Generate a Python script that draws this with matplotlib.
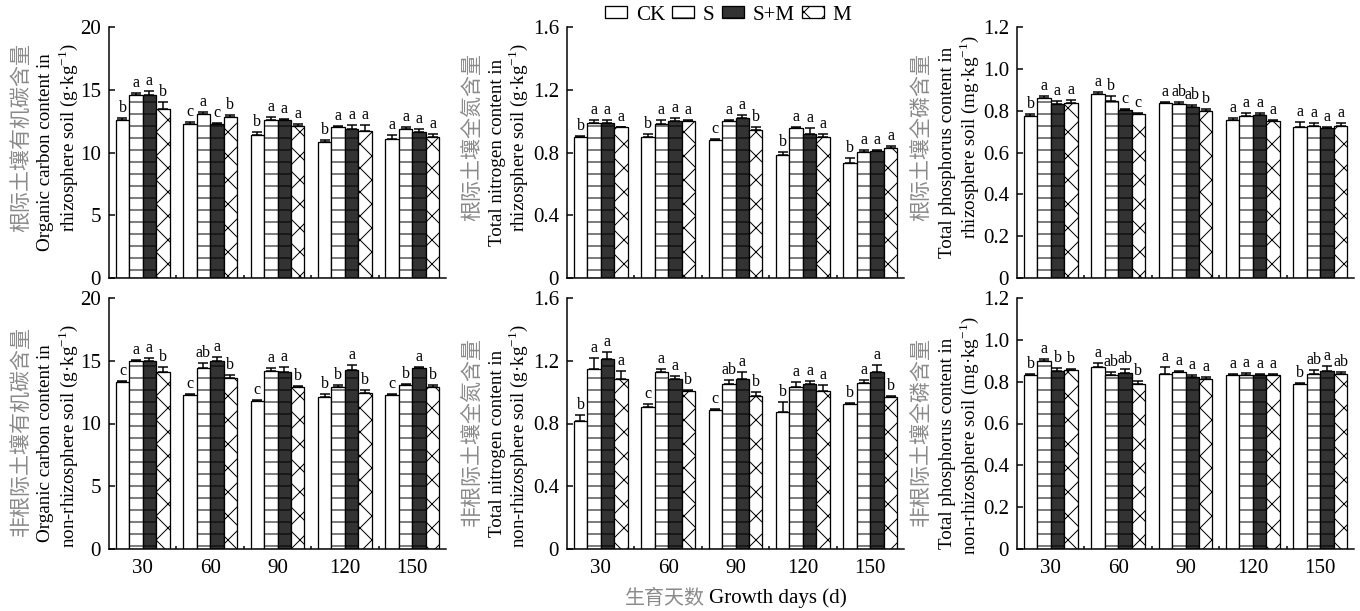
import matplotlib
matplotlib.use("Agg")
import matplotlib.pyplot as plt
import numpy as np

plt.rcParams["font.family"] = ["Liberation Serif", "Noto Sans CJK SC"]
plt.rcParams["mathtext.fontset"] = "custom"
plt.rcParams["mathtext.rm"] = "Liberation Serif"
plt.rcParams["hatch.linewidth"] = 1.0

days = ["30", "60", "90", "120", "150"]
treatments = ["CK", "S", "S+M", "M"]

# rows: CK, S, S+M, M ; columns: 30..150 days
oc_rhizo = [[12.55, 12.3, 11.4, 10.8, 11.1],
            [14.55, 13.1, 12.6, 12.0, 11.9],
            [14.6, 12.3, 12.6, 11.9, 11.6],
            [13.5, 12.8, 12.1, 11.7, 11.2]]
oc_rhizo_err = [[0.2, 0.15, 0.2, 0.2, 0.3],
                [0.2, 0.15, 0.2, 0.1, 0.1],
                [0.3, 0.05, 0.1, 0.3, 0.3],
                [0.5, 0.15, 0.2, 0.5, 0.3]]
oc_rhizo_let = [["b", "c", "b", "b", "a"],
                ["a", "a", "a", "a", "a"],
                ["a", "c", "a", "a", "a"],
                ["b", "b", "a", "a", "a"]]

tn_rhizo = [[0.898, 0.90, 0.88, 0.785, 0.735],
            [0.99, 0.98, 1.0, 0.955, 0.805],
            [0.99, 1.0, 1.02, 0.917, 0.81],
            [0.96, 1.0, 0.945, 0.90, 0.83]]
tn_rhizo_err = [[0.01, 0.02, 0.005, 0.02, 0.03],
                [0.02, 0.03, 0.005, 0.005, 0.01],
                [0.02, 0.02, 0.02, 0.04, 0.005],
                [0.005, 0.01, 0.015, 0.015, 0.01]]
tn_rhizo_let = [["b", "b", "c", "b", "b"],
                ["a", "a", "a", "a", "a"],
                ["a", "a", "a", "a", "a"],
                ["a", "a", "b", "a", "a"]]

tp_rhizo = [[0.773, 0.88, 0.837, 0.754, 0.72],
            [0.86, 0.848, 0.83, 0.773, 0.725],
            [0.83, 0.805, 0.818, 0.78, 0.717],
            [0.837, 0.786, 0.80, 0.752, 0.728]]
tp_rhizo_err = [[0.01, 0.01, 0.005, 0.01, 0.025],
                [0.01, 0.02, 0.01, 0.015, 0.015],
                [0.015, 0.005, 0.01, 0.01, 0.005],
                [0.015, 0.003, 0.01, 0.005, 0.015]]
tp_rhizo_let = [["b", "a", "a", "a", "a"],
                ["a", "b", "ab", "a", "a"],
                ["a", "c", "ab", "a", "a"],
                ["a", "c", "b", "a", "a"]]

oc_non = [[13.27, 12.26, 11.8, 12.15, 12.26],
          [15.0, 14.4, 14.2, 12.87, 13.05],
          [15.0, 15.0, 14.07, 14.28, 14.39],
          [14.07, 13.6, 12.87, 12.4, 12.9]]
oc_non_err = [[0.15, 0.1, 0.05, 0.2, 0.1],
              [0.05, 0.45, 0.2, 0.2, 0.1],
              [0.2, 0.3, 0.4, 0.4, 0.15],
              [0.4, 0.3, 0.15, 0.3, 0.2]]
oc_non_let = [["c", "c", "c", "b", "c"],
              ["a", "ab", "a", "b", "b"],
              ["a", "a", "a", "a", "a"],
              ["b", "b", "b", "b", "b"]]

tn_non = [[0.817, 0.908, 0.883, 0.874, 0.923],
          [1.15, 1.13, 1.05, 1.034, 1.057],
          [1.213, 1.083, 1.083, 1.05, 1.13],
          [1.083, 1.008, 0.977, 1.008, 0.968]]
tn_non_err = [[0.04, 0.015, 0.01, 0.06, 0.005],
              [0.07, 0.02, 0.03, 0.03, 0.02],
              [0.04, 0.02, 0.045, 0.02, 0.045],
              [0.05, 0.005, 0.025, 0.04, 0.005]]
tn_non_let = [["b", "c", "c", "b", "b"],
              ["a", "a", "ab", "a", "a"],
              ["a", "a", "a", "a", "a"],
              ["a", "b", "b", "a", "b"]]

tp_non = [[0.832, 0.872, 0.837, 0.83, 0.79],
          [0.90, 0.83, 0.845, 0.83, 0.837],
          [0.853, 0.84, 0.82, 0.83, 0.853],
          [0.856, 0.79, 0.815, 0.83, 0.837]]
tp_non_err = [[0.005, 0.015, 0.035, 0.005, 0.005],
              [0.008, 0.015, 0.005, 0.01, 0.02],
              [0.01, 0.02, 0.01, 0.005, 0.02],
              [0.005, 0.015, 0.005, 0.005, 0.01]]
tp_non_let = [["b", "a", "a", "a", "b"],
              ["a", "ab", "a", "a", "ab"],
              ["b", "ab", "a", "a", "a"],
              ["b", "b", "a", "a", "ab"]]

panels = [
    (oc_rhizo, oc_rhizo_err, oc_rhizo_let, 20, [0, 5, 10, 15, 20],
     ["根际土壤有机碳含量", "Organic carbon content in", r"rhizosphere soil (g·kg$^{-1}$)"]),
    (tn_rhizo, tn_rhizo_err, tn_rhizo_let, 1.6, [0, 0.4, 0.8, 1.2, 1.6],
     ["根际土壤全氮含量", "Total nitrogen content in", r"rhizosphere soil (g·kg$^{-1}$)"]),
    (tp_rhizo, tp_rhizo_err, tp_rhizo_let, 1.2, [0, 0.2, 0.4, 0.6, 0.8, 1.0, 1.2],
     ["根际土壤全磷含量", "Total phosphorus content in", r"rhizosphere soil (mg·kg$^{-1}$)"]),
    (oc_non, oc_non_err, oc_non_let, 20, [0, 5, 10, 15, 20],
     ["非根际土壤有机碳含量", "Organic carbon content in", r"non-rhizosphere soil (g·kg$^{-1}$)"]),
    (tn_non, tn_non_err, tn_non_let, 1.6, [0, 0.4, 0.8, 1.2, 1.6],
     ["非根际土壤全氮含量", "Total nitrogen content in", r"non-rhizosphere soil (g·kg$^{-1}$)"]),
    (tp_non, tp_non_err, tp_non_let, 1.2, [0, 0.2, 0.4, 0.6, 0.8, 1.0, 1.2],
     ["非根际土壤全磷含量", "Total phosphorus content in", r"non-rhizosphere soil (mg·kg$^{-1}$)"]),
]

W, H = 1360, 611
fig = plt.figure(figsize=(W / 72, H / 72), dpi=72)

lefts = [109, 567, 1017]
aw = 337
tops = [27, 298]
ah = 251
# y-label line offsets (px, left of axis) per column
lab_off = [[-87, -64, -41], [-95, -70, -49], [-95, -70, -48]]
lab_y = [[0.56, 0.50, 0.56], [0.47, 0.42, 0.45]]

styles = [dict(facecolor="white", hatch=None),
          dict(facecolor="white", hatch="-"),
          dict(facecolor="#333333", hatch="-"),
          dict(facecolor="white", hatch="x")]

bw = 0.2
x = np.arange(len(days))
for i, (vals, errs, lets, ymax, yt, ylab) in enumerate(panels):
    r, c = divmod(i, 3)
    ax = fig.add_axes([lefts[c] / W, 1 - (tops[r] + ah) / H, aw / W, ah / H])
    for k in range(4):
        xs = x + (k - 1.5) * bw
        ax.bar(xs, vals[k], bw, edgecolor="black", linewidth=1.3,
               label=treatments[k], zorder=2, **styles[k])
        ax.errorbar(xs, vals[k], yerr=[np.zeros(5), errs[k]], fmt="none",
                    ecolor="black", elinewidth=1.5, capsize=5, capthick=1.5, zorder=3)
        for xi, v, e, t in zip(xs, vals[k], errs[k], lets[k]):
            ax.annotate(t, (xi, v + e), xytext=(0, 2), textcoords="offset points",
                        ha="center", va="bottom", fontsize=16)
    ax.set_xlim(-0.5, 4.5)
    ax.set_ylim(0, ymax)
    ax.set_yticks(yt)
    ax.set_yticklabels(["0"] + ["%g" % v if ymax == 20 else "%.1f" % v for v in yt[1:]])
    ax.set_xticks(x)
    ax.set_xticks(np.arange(0.5, 4.5, 1), minor=True)
    if r == 1:
        ax.set_xticklabels(days)
    else:
        ax.set_xticklabels([])
    ax.tick_params(axis="x", which="major", length=0, pad=10, labelsize=21)
    ax.tick_params(axis="x", which="minor", direction="in", length=3, width=1.5)
    ax.tick_params(axis="y", direction="in", length=6, width=1.5, pad=8, labelsize=21)
    for s in ["top", "right"]:
        ax.spines[s].set_visible(False)
    for s in ["left", "bottom"]:
        ax.spines[s].set_linewidth(1.5)
    for j, txt in enumerate(ylab):
        ax.text(lab_off[c][j] / aw, lab_y[r][j], txt, transform=ax.transAxes,
                rotation=90, ha="center", va="center",
                fontsize=19 if j else 21,
                color="#8a8a8a" if j == 0 else "black",
                family="Noto Sans CJK SC" if j == 0 else "Liberation Serif")
    if i == 1:
        handles, labels = ax.get_legend_handles_labels()

fig.legend(handles, labels, loc="center", bbox_to_anchor=(728 / W, 1 - 15 / H),
           ncol=4, frameon=False, fontsize=21, handlelength=1.05, handleheight=0.55,
           columnspacing=0.35, handletextpad=0.4, borderaxespad=0)

fig.text(705 / W, 1 - 598 / H, "生育天数", ha="right", va="center", fontsize=20,
         color="#8a8a8a", family="Noto Sans CJK SC")
fig.text(709 / W, 1 - 598 / H, "Growth days (d)", ha="left", va="center", fontsize=21)

fig.savefig("out.png", dpi=72)
